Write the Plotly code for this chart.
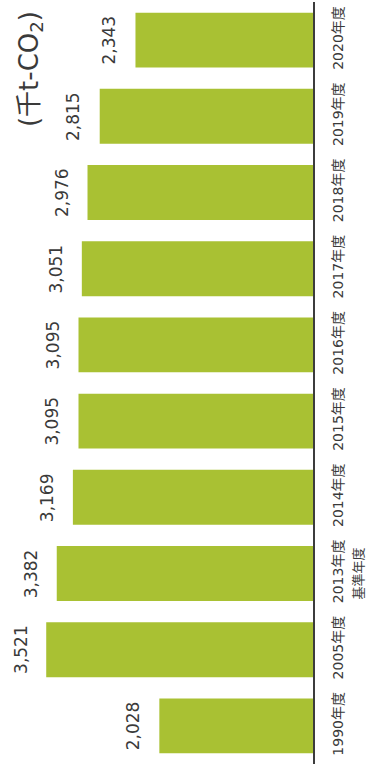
import plotly.graph_objects as go

# CO2 emissions by fiscal year (thousand t-CO2)
categories = ["1990年度", "2005年度", "2013年度", "2014年度", "2015年度",
              "2016年度", "2017年度", "2018年度", "2019年度", "2020年度"]
values = [2028, 3521, 3382, 3169, 3095, 3095, 3051, 2976, 2815, 2343]
value_labels = [f"{v:,}" for v in values]

unit_label = "(千t-CO<sub>2</sub>)"
base_year_label = "基準年度"
base_year_category = "2013年度"

BAR_COLOR = "#A9C133"
TEXT_COLOR = "#3a3a3a"
FONT = "DejaVu Sans, Noto Sans CJK JP, sans-serif"

W, H = 374, 765
PLOT_RIGHT = 313  # pixel position of the baseline axis

fig = go.Figure(
    go.Bar(
        x=values,
        y=categories,
        orientation="h",
        marker=dict(color=BAR_COLOR, line=dict(width=0)),
        hoverinfo="skip",
    )
)

# value labels beyond the end of each bar, reading bottom-to-top
for cat, v, lab in zip(categories, values, value_labels):
    fig.add_annotation(
        x=v, y=cat, xref="x", yref="y",
        text=lab, showarrow=False, textangle=-90,
        xanchor="center", yanchor="middle", xshift=-26,
        font=dict(family=FONT, size=17, color=TEXT_COLOR),
    )

# unit label in the upper-left corner
fig.add_annotation(
    x=30 / PLOT_RIGHT, y=0.912, xref="paper", yref="paper",
    text=unit_label, showarrow=False, textangle=-90,
    xanchor="center", yanchor="middle",
    font=dict(family=FONT, size=26, color=TEXT_COLOR),
)

# base-year note next to the 2013 category label
fig.add_annotation(
    x=358 / PLOT_RIGHT, y=base_year_category, xref="paper", yref="y",
    text=base_year_label, showarrow=False, textangle=-90,
    xanchor="center", yanchor="middle",
    font=dict(family=FONT, size=13, color=TEXT_COLOR),
)

fig.update_layout(
    width=W, height=H,
    margin=dict(l=0, r=W - PLOT_RIGHT, t=2, b=1),
    paper_bgcolor="white", plot_bgcolor="white",
    bargap=0.28,
    showlegend=False,
    xaxis=dict(
        range=[4131, 0], visible=False, showgrid=False, zeroline=False,
        fixedrange=True,
    ),
    yaxis=dict(
        type="category", categoryorder="array", categoryarray=categories,
        side="right", tickangle=-90,
        showline=True, linecolor="#3c3c3c", linewidth=2,
        showgrid=False, zeroline=False, ticks="",
        ticklabelstandoff=11,
        tickfont=dict(family=FONT, size=14, color=TEXT_COLOR),
        fixedrange=True,
    ),
)

fig.write_html("out.html")
